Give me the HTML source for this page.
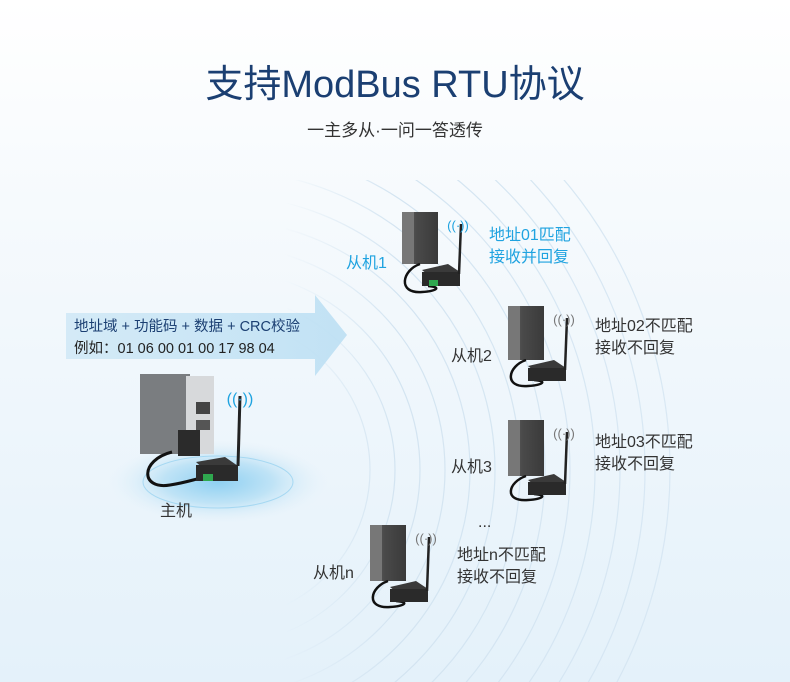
<!DOCTYPE html>
<html><head><meta charset="utf-8"><style>
html,body{margin:0;padding:0;width:790px;height:682px;overflow:hidden;font-family:"Liberation Sans","Noto Sans CJK SC",sans-serif}
#w{position:relative;width:790px;height:682px;overflow:hidden}
svg{position:absolute;left:0;top:0;display:block}
</style></head><body><div id="w">
<svg width="790" height="682" viewBox="0 0 790 682" xmlns="http://www.w3.org/2000/svg">
<defs>
<linearGradient id="bg" x1="0" y1="0" x2="0" y2="1"><stop offset="0" stop-color="#ffffff"/><stop offset="0.3" stop-color="#f6fafd"/><stop offset="1" stop-color="#e4f1fa"/></linearGradient>
<linearGradient id="arr" x1="0" y1="0" x2="1" y2="0"><stop offset="0" stop-color="#cfe8f6"/><stop offset="1" stop-color="#b9def3"/></linearGradient>
<radialGradient id="glow" cx="0.5" cy="0.5" r="0.5"><stop offset="0" stop-color="#8fd0f2"/><stop offset="0.5" stop-color="#bfe3f6"/><stop offset="1" stop-color="#e4f1fa" stop-opacity="0"/></radialGradient>
<linearGradient id="box" x1="0" y1="0" x2="1" y2="0"><stop offset="0" stop-color="#6a6a6a"/><stop offset="0.4" stop-color="#4a4a4a"/><stop offset="1" stop-color="#3a3a3a"/></linearGradient>
<linearGradient id="fade" x1="0" y1="0" x2="1" y2="0"><stop offset="0.36" stop-color="#fff" stop-opacity="0"/><stop offset="0.5" stop-color="#fff" stop-opacity="1"/><stop offset="0.85" stop-color="#fff" stop-opacity="0.8"/><stop offset="0.95" stop-color="#fff" stop-opacity="0"/></linearGradient>
<mask id="m"><rect x="0" y="180" width="790" height="502" fill="url(#fade)"/></mask>
</defs>
<rect width="790" height="682" fill="url(#bg)"/>
<g fill="none" stroke="#d3e4f1" stroke-width="1.2" mask="url(#m)">
<circle cx="220" cy="470" r="150"/><circle cx="220" cy="470" r="175"/><circle cx="220" cy="470" r="200"/><circle cx="220" cy="470" r="225"/><circle cx="220" cy="470" r="250"/><circle cx="220" cy="470" r="275"/><circle cx="220" cy="470" r="300"/><circle cx="220" cy="470" r="325"/><circle cx="220" cy="470" r="350"/><circle cx="220" cy="470" r="375"/><circle cx="220" cy="470" r="400"/><circle cx="220" cy="470" r="425"/><circle cx="220" cy="470" r="450"/>
</g>
<text x="395" y="97" text-anchor="middle" font-size="38" fill="#1b3f72">支持ModBus RTU协议</text>
<text x="395" y="136" text-anchor="middle" font-size="17" fill="#333">一主多从·一问一答透传</text>
<polygon points="66,313 315,313 315,295 347,335 315,376 315,359 66,359" fill="url(#arr)" opacity="0.85"/>
<text x="74" y="331" font-size="14.5" fill="#1b3f72">地址域 + 功能码 + 数据 + CRC校验</text>
<text x="74" y="353" font-size="14.5" fill="#222">例如：01  06  00 01  00 17  98 04</text>
<ellipse cx="218" cy="482" rx="110" ry="42" fill="url(#glow)"/>
<ellipse cx="218" cy="482" rx="75" ry="26" fill="none" stroke="#a6d8f2" stroke-width="1"/>
<rect x="140" y="374" width="50" height="80" fill="#7a7d80"/>
<rect x="186" y="376" width="28" height="78" fill="#d7d9db"/>
<rect x="178" y="430" width="22" height="26" fill="#2b2b2b"/>
<rect x="196" y="402" width="14" height="12" fill="#444"/>
<rect x="196" y="420" width="14" height="10" fill="#555"/>
<path d="M172 452 C140 460,140 490,170 485 C190 482,200 477,205 478" stroke="#111" stroke-width="3" fill="none"/>
<polygon points="196,462 225,457 238,466 208,473" fill="#3a3a3a"/><rect x="196" y="465" width="42" height="16" fill="#2a2a2a"/><rect x="203" y="474" width="10" height="7" fill="#2fa84f"/>
<line x1="240" y1="396" x2="238" y2="466" stroke="#222" stroke-width="3"/>
<text x="240" y="404" text-anchor="middle" font-size="16" fill="#1fa3e0">((·))</text>
<text x="160" y="516" font-size="16" fill="#333">主机</text>
<g transform="translate(402,212)">
<rect x="0" y="0" width="36" height="52" fill="url(#box)"/><rect x="0" y="0" width="12" height="52" fill="#777"/>
<path d="M18 52 C0 58,-5 82,20 80 C35 79,40 75,26 74" stroke="#111" stroke-width="2.5" fill="none"/>
<polygon points="20,58 46,52 58,60 30,66" fill="#3a3a3a"/><rect x="20" y="60" width="38" height="14" fill="#2a2a2a"/><rect x="27" y="68" width="9" height="6" fill="#2fa84f"/>
<line x1="59" y1="12" x2="57" y2="62" stroke="#222" stroke-width="2.5"/>
<text x="56" y="18" text-anchor="middle" font-size="13" fill="#1fa3e0">((·))</text>
</g>
<text x="346" y="268" font-size="16" fill="#1fa3e0">从机1</text>
<text x="489" y="240" font-size="16" fill="#1fa3e0">地址01匹配</text>
<text x="489" y="262" font-size="16" fill="#1fa3e0">接收并回复</text>
<g transform="translate(508,306)">
<rect x="0" y="0" width="36" height="54" fill="url(#box)"/><rect x="0" y="0" width="12" height="54" fill="#777"/>
<path d="M18 54 C0 60,-5 82,20 80 C35 79,40 75,26 74" stroke="#111" stroke-width="2.5" fill="none"/>
<polygon points="20,60 46,54 58,62 30,68" fill="#3a3a3a"/><rect x="20" y="62" width="38" height="13" fill="#2a2a2a"/>
<line x1="59" y1="12" x2="57" y2="64" stroke="#222" stroke-width="2.5"/>
<text x="56" y="18" text-anchor="middle" font-size="13" fill="#777">((·))</text>
</g>
<text x="451" y="361" font-size="16" fill="#333">从机2</text>
<text x="595" y="331" font-size="16" fill="#333">地址02不匹配</text>
<text x="595" y="353" font-size="16" fill="#333">接收不回复</text>
<g transform="translate(508,420)">
<rect x="0" y="0" width="36" height="56" fill="url(#box)"/><rect x="0" y="0" width="12" height="56" fill="#777"/>
<path d="M18 56 C0 62,-5 82,20 80 C35 79,40 75,26 74" stroke="#111" stroke-width="2.5" fill="none"/>
<polygon points="20,60 46,54 58,62 30,68" fill="#3a3a3a"/><rect x="20" y="62" width="38" height="13" fill="#2a2a2a"/>
<line x1="59" y1="12" x2="57" y2="64" stroke="#222" stroke-width="2.5"/>
<text x="56" y="18" text-anchor="middle" font-size="13" fill="#777">((·))</text>
</g>
<text x="451" y="472" font-size="16" fill="#333">从机3</text>
<text x="595" y="447" font-size="16" fill="#333">地址03不匹配</text>
<text x="595" y="469" font-size="16" fill="#333">接收不回复</text>
<text x="478" y="527" font-size="16" fill="#333">...</text>
<g transform="translate(370,525)">
<rect x="0" y="0" width="36" height="56" fill="url(#box)"/><rect x="0" y="0" width="12" height="56" fill="#777"/>
<path d="M18 56 C0 62,-5 84,20 82 C35 81,40 77,26 76" stroke="#111" stroke-width="2.5" fill="none"/>
<polygon points="20,62 46,56 58,64 30,70" fill="#3a3a3a"/><rect x="20" y="64" width="38" height="13" fill="#2a2a2a"/>
<line x1="59" y1="12" x2="57" y2="66" stroke="#222" stroke-width="2.5"/>
<text x="56" y="18" text-anchor="middle" font-size="13" fill="#777">((·))</text>
</g>
<text x="313" y="578" font-size="16" fill="#333">从机n</text>
<text x="457" y="560" font-size="16" fill="#333">地址n不匹配</text>
<text x="457" y="582" font-size="16" fill="#333">接收不回复</text>
</svg>
</div></body></html>
